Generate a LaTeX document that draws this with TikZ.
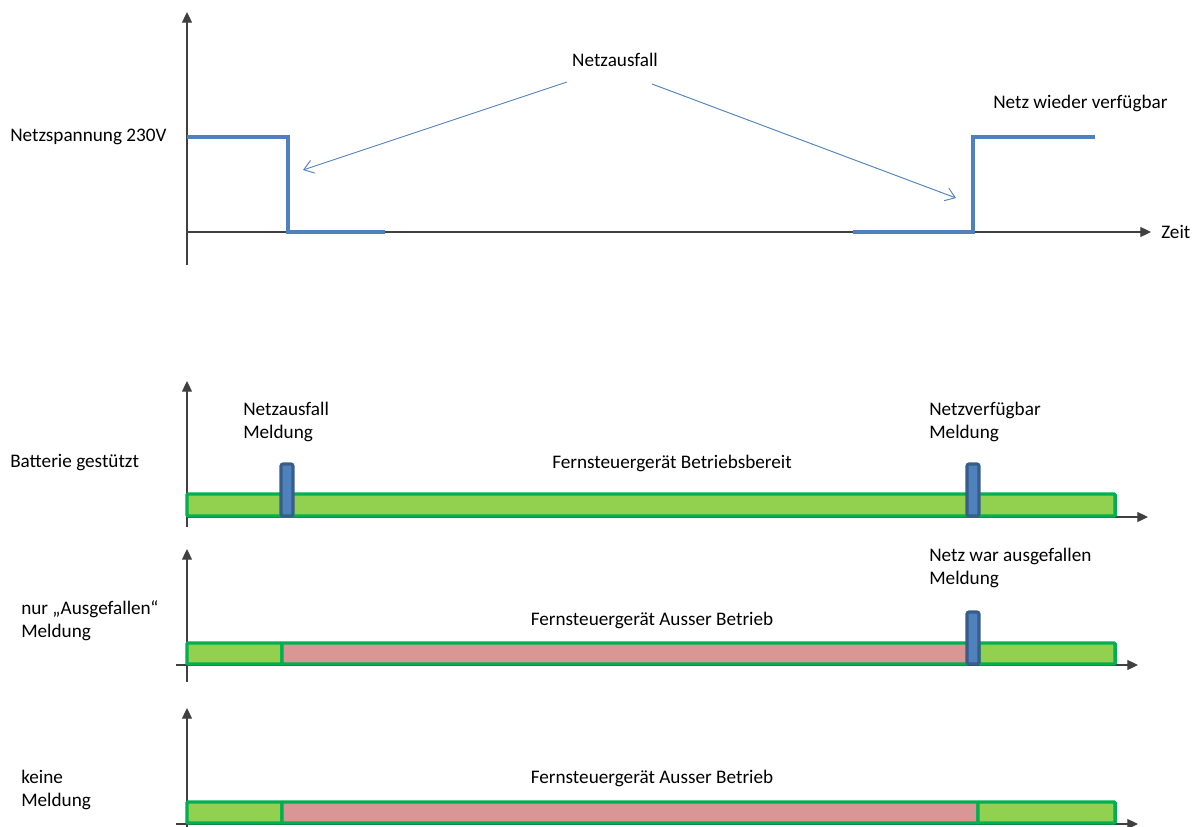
\documentclass[tikz,border=0pt]{standalone}
\usepackage{fontspec}
\setmainfont{Carlito}
\usetikzlibrary{arrows.meta}
\definecolor{sig}{HTML}{4F81BD}
\definecolor{sigdark}{HTML}{385D8A}
\definecolor{okfill}{HTML}{92D050}
\definecolor{okline}{HTML}{00B050}
\definecolor{badfill}{HTML}{D99694}
\definecolor{axis}{HTML}{404040}
\tikzset{
  ax/.style={draw=axis, line width=0.8pt, -{Triangle[length=8pt,width=7.5pt]}},
  axplain/.style={draw=axis, line width=0.8pt},
  signal/.style={draw=sig, line width=3pt},
  note/.style={draw=sig, line width=0.7pt, -{Straight Barb[length=7pt,width=10pt]}},
  lbl/.style={font=\fontsize{14.4pt}{17.3pt}\selectfont, text=black, inner sep=0pt},
  okbar/.style={fill=okfill, draw=okline, line width=2.6pt, rounded corners=0.8pt},
  badbar/.style={fill=badfill, draw=okline, line width=2.6pt, rounded corners=0.8pt},
  marker/.style={fill=sig, draw=sigdark, line width=2.3pt, rounded corners=1.5pt},
}
\begin{document}
\begin{tikzpicture}[x=0.75pt,y=-0.75pt]
\useasboundingbox (0,0) rectangle (1202,827);
% ---------- top chart ----------
\draw[ax] (187,265) -- (187,12);
\draw[ax] (187,232) -- (1151,232);
\node[lbl, anchor=west] (zeit) at (1161,232) {Zeit};
\draw[signal] (187,137) -- (288,137) -- (288,232) -- (385,232);
\draw[signal] (853,232) -- (973,232) -- (973,137) -- (1095,137);
\node[lbl, anchor=west] (netzsp) at (10,137) {Netzspannung 230V};
\node[lbl] (ausfall) at (615,60) {Netzausfall};
\node[lbl, anchor=west] (wieder) at (993,103) {Netz wieder verfügbar};
\coordinate (a1s) at (567,82);
\coordinate (a1e) at (303,170);
\coordinate (a2s) at (652,84);
\coordinate (a2e) at (956,198);
\draw[note] (a1s) -- (a1e);
\draw[note] (a2s) -- (a2e);
% ---------- chart 2 ----------
\draw[ax] (187,527) -- (187,381);
\draw[ax] (187,517) -- (1148,517);
\draw[okbar] (187,494) rectangle (1115,516);
\draw[marker] (281,464) rectangle (293,516);
\draw[marker] (967,464) rectangle (979,516);
\node[lbl, anchor=west, align=left] (m1) at (243,422) {Netzausfall\\Meldung};
\node[lbl, anchor=west, align=left] (m2) at (929,422) {Netzverfügbar\\Meldung};
\node[lbl, anchor=west] (batt) at (10,463) {Batterie gestützt};
\node[lbl] (bereit) at (672,463) {Fernsteuergerät Betriebsbereit};
% ---------- chart 3 ----------
\draw[ax] (187,682) -- (187,549);
\draw[ax] (176,665) -- (1138,665);
\draw[okbar] (187,643) rectangle (282,664);
\draw[badbar] (282,643) rectangle (968,664);
\draw[okbar] (979,643) rectangle (1115,664);
\draw[marker] (967,612) rectangle (979,664);
\node[lbl, anchor=west, align=left] (m3) at (929,568) {Netz war ausgefallen\\Meldung};
\node[lbl, anchor=west, align=left] (nur) at (21,621) {nur „Ausgefallen“\\Meldung};
\node[lbl] (aus1) at (652,620) {Fernsteuergerät Ausser Betrieb};
% ---------- chart 4 ----------
\draw[ax] (187,827) -- (187,708);
\draw[ax] (176,824) -- (1138,824);
\draw[okbar] (187,802) rectangle (282,823);
\draw[badbar] (282,802) rectangle (978,823);
\draw[okbar] (978,802) rectangle (1115,823);
\node[lbl, anchor=west, align=left] (keine) at (21,790) {keine\\Meldung};
\node[lbl] (aus2) at (652,778) {Fernsteuergerät Ausser Betrieb};
\end{tikzpicture}
\end{document}
